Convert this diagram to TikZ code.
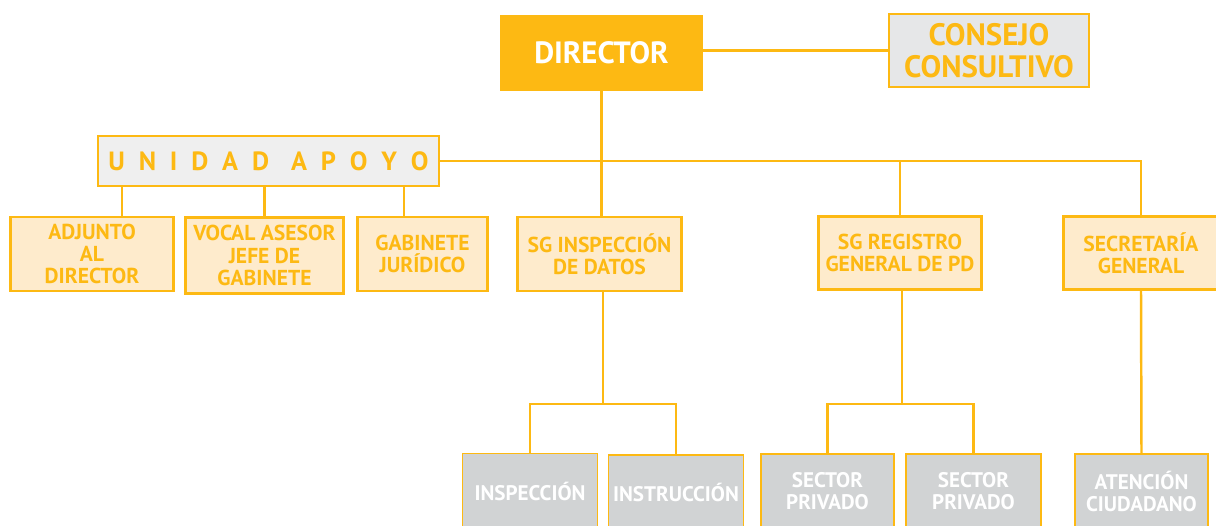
\documentclass[tikz,border=0pt]{standalone}
\usepackage{fontspec}
\setmainfont{PT Sans}
\definecolor{naranja}{HTML}{FDB913}
\definecolor{crema}{HTML}{FEEBCC}
\definecolor{grisclaro}{HTML}{E6E7E8}
\definecolor{grisunidad}{HTML}{EFEFEF}
\definecolor{grismedio}{HTML}{D1D3D4}
\begin{document}
\begin{tikzpicture}[
  linea/.style={draw=naranja, line width=1.4pt},
  jefe/.style={fill=naranja, text=white, minimum width=4.06cm, minimum height=1.52cm,
    font=\bfseries\fontsize{17.5}{20}\selectfont},
  consejo/.style={draw=naranja, line width=1.5pt, fill=grisclaro, text=naranja, align=center,
    minimum width=4.0cm, minimum height=1.46cm, font=\bfseries\fontsize{17.6}{18.2}\selectfont},
  unidad/.style={draw=naranja, line width=1.5pt, fill=grisunidad, text=naranja,
    minimum width=6.82cm, minimum height=1.0cm, font=\bfseries\fontsize{15}{16}\selectfont},
  caja/.style={draw=naranja, line width=1.5pt, fill=crema, text=naranja, align=center,
    minimum height=1.48cm, inner xsep=2pt, font=\bfseries\fontsize{12.3}{12.6}\selectfont},
  area/.style={draw=naranja, line width=0.8pt, fill=grismedio, text=white, align=center,
    minimum width=2.7cm, minimum height=1.5cm, inner xsep=1pt, font=\bfseries\fontsize{12}{12.6}\selectfont}
]
\useasboundingbox (0,0) rectangle (24.32,-10.5);
% cabecera
\node[jefe] (dir) at (12.03,-1.06) {DIRECTOR};
\node[consejo] (cons) at (19.78,-1.01) {CONSEJO\\CONSULTIVO};
\node[unidad] (uni) at (5.37,-3.22) {\makebox[6.4cm][s]{U\hfill N\hfill I\hfill D\hfill A\hfill D\hskip 0pt plus 1.6fill A\hfill P\hfill O\hfill Y\hfill O}};
% segundo nivel
\node[caja, minimum width=3.25cm] (adj) at (1.84,-5.08) {ADJUNTO\\AL\\DIRECTOR};
\node[caja, minimum width=3.15cm, minimum height=1.52cm] (vocal) at (5.29,-5.11) {VOCAL ASESOR\\JEFE DE\\GABINETE};
\node[caja, minimum width=2.6cm] (gab) at (8.45,-5.08) {GABINETE\\JURÍDICO};
\node[caja, minimum width=3.27cm] (sgi) at (11.99,-5.08) {SG INSPECCIÓN\\DE DATOS};
\node[caja, minimum width=3.25cm, minimum height=1.45cm] (sgr) at (18.0,-5.06) {SG REGISTRO\\GENERAL DE PD};
\node[caja, minimum width=3.1cm, minimum height=1.45cm] (sec) at (22.82,-5.06) {SECRETARÍA\\GENERAL};
% tercer nivel
\node[area] (insp) at (10.6,-9.82) {INSPECCIÓN};
\node[area] (instr) at (13.52,-9.85) {INSTRUCCIÓN};
\node[area, minimum width=2.66cm] (priv1) at (16.55,-9.83) {SECTOR\\PRIVADO};
\node[area] (priv2) at (19.47,-9.83) {SECTOR\\PRIVADO};
\node[area, minimum width=2.66cm] (aten) at (22.83,-9.83) {ATENCIÓN\\CIUDADANO};
\coordinate (j1) at (12.06,-8.08);
\coordinate (j2) at (18.04,-8.08);
% conectores
\draw[linea] (cons.west) -- (cons.west -| dir.east);
\draw[linea] (dir.south) -- (dir.south |- sgi.north);
\draw[linea] (uni.east) -| (sec.north);
\draw[linea] (sgr.north) -- (sgr.north |- uni.east);
\draw[linea] ([xshift=6mm]adj.north) -- ([xshift=6mm]adj.north |- uni.south);
\draw[linea] (vocal.north) -- (vocal.north |- uni.south);
\draw[linea] ([xshift=-3.7mm]gab.north) -- ([xshift=-3.7mm]gab.north |- uni.south);
\draw[linea] (j1 |- sgi.south) -- (j1);
\draw[linea] (insp.north) -- (insp.north |- j1) -- (instr.north |- j1) -- (instr.north);
\draw[linea] (j2 |- sgr.south) -- (j2);
\draw[linea] (priv1.north) -- (priv1.north |- j2) -- (priv2.north |- j2) -- (priv2.north);
\draw[linea] (sec.south) -- (aten.north);
\end{tikzpicture}
\end{document}
